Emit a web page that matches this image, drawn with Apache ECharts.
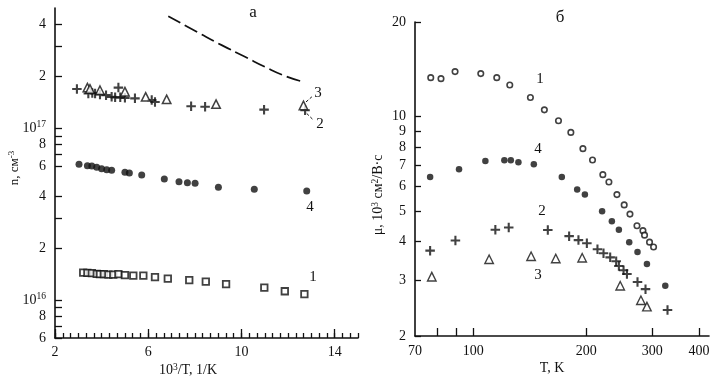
<!DOCTYPE html>
<html><head><meta charset="utf-8">
<script src="https://cdn.jsdelivr.net/npm/echarts@6/dist/echarts.min.js"></script>
<style>html,body{margin:0;padding:0;background:#fff}#c{width:717px;height:380px}</style>
</head><body><div id="c"></div>
<script>
// ---------- Panel "а": n vs 10^3/T ----------
const aN1 = [[3.21,1.441e16],[3.39,1.436e16],[3.58,1.430e16],[3.79,1.417e16],[3.93,1.411e16],[4.10,1.411e16],[4.29,1.404e16],[4.50,1.404e16],[4.72,1.411e16],[5.0,1.392e16],[5.36,1.385e16],[5.79,1.385e16],[6.29,1.355e16],[6.84,1.330e16],[7.76,1.302e16],[8.47,1.278e16],[9.34,1.234e16],[10.98,1.179e16],[11.86,1.123e16],[12.70,1.079e16]];
const aN2 = [[2.94,1.69e17],[3.43,1.59e17],[3.6,1.60e17],[3.72,1.59e17],[3.93,1.57e17],[4.19,1.555e17],[4.43,1.52e17],[4.58,1.51e17],[4.72,1.72e17],[4.8,1.51e17],[5.0,1.50e17],[5.43,1.49e17],[6.15,1.455e17],[6.29,1.42e17],[7.84,1.34e17],[8.44,1.33e17],[10.97,1.28e17],[12.73,1.27e17]];
const aN3 = [[3.39,1.72e17],[3.5,1.69e17],[3.93,1.66e17],[5.0,1.63e17],[5.89,1.52e17],[6.79,1.47e17],[8.91,1.38e17],[12.66,1.355e17]];
const aN4 = [[3.03,6.15e16],[3.39,6.03e16],[3.58,6.01e16],[3.79,5.91e16],[4.0,5.80e16],[4.22,5.72e16],[4.43,5.68e16],[5.0,5.53e16],[5.19,5.47e16],[5.72,5.33e16],[6.69,5.05e16],[7.32,4.87e16],[7.68,4.81e16],[8.01,4.77e16],[9.01,4.52e16],[10.55,4.40e16],[12.80,4.30e16]];
const aCurve = [[6.86,4.48e17],[8.22,3.55e17],[9.15,3.04e17],[10.15,2.60e17],[11.01,2.27e17],[11.87,2.01e17],[12.52,1.88e17]];
const aLeader3 = [[12.77,1.42e17],[13.02,1.52e17]];
const aLeader2 = [[12.80,1.217e17],[13.09,1.113e17]];
const aXLabels = [2,6,10,14];
const aYLabels = [6e15,8e15,1e16,2e16,4e16,6e16,8e16,1e17,2e17,4e17];
const aYTicks = [6e15,7e15,8e15,9e15,1e16,2e16,3e16,4e16,6e16,7e16,8e16,9e16,1e17,2e17,3e17,4e17,5e17];
const aXMinorTicks = [];
for (let i = 0; i <= 39; i++) aXMinorTicks.push(2 + i / 3);

// ---------- Panel "б": mu vs T ----------
const bMu1 = [[77.1,13.3],[82.1,13.2],[89.5,13.9],[104.8,13.7],[115.6,13.3],[125.2,12.6],[142.1,11.5],[154.8,10.5],[168.8,9.7],[182.1,8.9],[196.1,7.9],[208,7.27],[221.6,6.53],[230,6.19],[241.6,5.64],[252.6,5.23],[261.7,4.89],[273.2,4.49],[283.4,4.33],[286.2,4.19],[295.1,3.98],[302.5,3.84]];
const bMu4 = [[76.8,6.42],[91.7,6.79],[107.8,7.22],[121.1,7.26],[126,7.26],[132,7.15],[145.1,7.05],[172.3,6.42],[189.3,5.86],[198.5,5.64],[220.6,4.99],[234.2,4.64],[244.5,4.36],[260.5,3.98],[274.1,3.70],[290.4,3.39],[325,2.89]];
const bMu2 = [[76.8,3.74],[89.7,4.03],[114.6,4.36],[124.4,4.43],[158.1,4.35],[180.2,4.16],[190.8,4.04],[200.9,3.95],[214.4,3.78],[222.5,3.67],[231.8,3.56],[240.5,3.46],[244.5,3.34],[251.6,3.24],[256.9,3.15],[274.1,2.97],[287.9,2.82],[329.5,2.42]];
const bMu3 = [[77.6,3.09],[110.3,3.51],[142.7,3.59],[166,3.53],[195.2,3.55],[246.5,2.89],[279.9,2.60],[290.4,2.48]];
const bXLabels = [70,100,200,300,400];
const bXTicks = [80,90,100,200,300,400];
const bYLabels = [2,3,4,5,6,7,8,9,10,20];

const FONT = 'Liberation Serif';
const INK = '#111';
const plusPath = 'path://M3.9,0H6.1V3.9H10V6.1H6.1V10H3.9V6.1H0V3.9H3.9Z';
const rich = {
  b: {fontFamily: FONT, fontSize: 14, color: INK, lineHeight: 17},
  s: {fontFamily: FONT, fontSize: 9.5, color: INK, lineHeight: 10, verticalAlign: 'top'}
};
function logFmt(v) {
  const e = Math.floor(Math.log10(v) + 1e-9);
  const m = Math.round(v / Math.pow(10, e));
  if (m === 1) return '{b|10}{s|' + e + '}';
  return '{b|' + m + '}';
}
const axLine = {show: true, lineStyle: {color: INK, width: 1.6}};
const labelBase = {fontFamily: FONT, fontSize: 14, color: INK};

const chart = echarts.init(document.getElementById('c'), null, {renderer: 'canvas'});
chart.setOption({
  animation: false,
  backgroundColor: '#fff',
  grid: [
    {left: 55, top: 8, width: 303, height: 330},
    {left: 415, top: 22, width: 294, height: 314}
  ],
  xAxis: [
    {type: 'value', gridIndex: 0, min: 2, max: 15, position: 'bottom',
      axisLine: axLine, splitLine: {show: false},
      axisTick: {show: true, inside: true, length: 5, customValues: aXMinorTicks, lineStyle: {color: INK, width: 1.3}},
      axisLabel: {show: false}},
    {type: 'value', gridIndex: 0, min: 2, max: 15, position: 'bottom',
      axisLine: {show: false}, splitLine: {show: false},
      axisTick: {show: true, inside: true, length: 9, customValues: aXLabels, lineStyle: {color: INK, width: 1.3}},
      axisLabel: Object.assign({show: true, margin: 7, customValues: aXLabels}, labelBase)},
    {type: 'log', logBase: 10, gridIndex: 1, min: 70, max: 425, position: 'bottom',
      axisLine: axLine, splitLine: {show: false}, minorTick: {show: false},
      axisTick: {show: true, inside: true, length: 8, customValues: bXTicks, lineStyle: {color: INK, width: 1.3}},
      axisLabel: Object.assign({show: true, margin: 8, customValues: bXLabels, formatter: v => String(Math.round(v))}, labelBase)}
  ],
  yAxis: [
    {type: 'log', logBase: 10, gridIndex: 0, min: 6e15, max: 5e17,
      axisLine: axLine, splitLine: {show: false}, minorTick: {show: false},
      axisTick: {show: true, inside: true, length: 7, customValues: aYTicks, lineStyle: {color: INK, width: 1.3}},
      axisLabel: {show: true, margin: 9, customValues: aYLabels, formatter: logFmt, rich: rich}},
    {type: 'log', logBase: 10, gridIndex: 1, min: 2, max: 20,
      axisLine: axLine, splitLine: {show: false}, minorTick: {show: false},
      axisTick: {show: true, inside: true, length: 6, customValues: bYLabels, lineStyle: {color: INK, width: 1.3}},
      axisLabel: Object.assign({show: true, margin: 9, customValues: bYLabels, formatter: v => String(Math.round(v))}, labelBase)}
  ],
  series: [
    {name: 'a1', type: 'scatter', xAxisIndex: 0, yAxisIndex: 0, data: aN1, symbol: 'rect', symbolSize: 6.5,
      itemStyle: {color: '#fff', borderColor: INK, borderWidth: 1.8}},
    {name: 'a2', type: 'scatter', xAxisIndex: 0, yAxisIndex: 0, data: aN2, symbol: plusPath, symbolSize: 9.5,
      itemStyle: {color: INK}},
    {name: 'a3', type: 'scatter', xAxisIndex: 0, yAxisIndex: 0, data: aN3, symbol: 'triangle', symbolSize: 8.5,
      itemStyle: {color: '#fff', borderColor: INK, borderWidth: 1.5}},
    {name: 'a4', type: 'scatter', xAxisIndex: 0, yAxisIndex: 0, data: aN4, symbol: 'circle', symbolSize: 7,
      itemStyle: {color: INK}},
    {name: 'aCurve', type: 'line', xAxisIndex: 0, yAxisIndex: 0, data: aCurve, smooth: true, symbol: 'none',
      lineStyle: {color: INK, width: 1.7, type: [14, 5]}},
    {name: 'aL3', type: 'line', xAxisIndex: 0, yAxisIndex: 0, data: aLeader3, symbol: 'none',
      lineStyle: {color: INK, width: 1, type: [3, 2]}},
    {name: 'aL2', type: 'line', xAxisIndex: 0, yAxisIndex: 0, data: aLeader2, symbol: 'none',
      lineStyle: {color: INK, width: 1, type: [3, 2]}},
    {name: 'b1', type: 'scatter', xAxisIndex: 2, yAxisIndex: 1, data: bMu1, symbol: 'circle', symbolSize: 5.5,
      itemStyle: {color: '#fff', borderColor: INK, borderWidth: 1.6}},
    {name: 'b4', type: 'scatter', xAxisIndex: 2, yAxisIndex: 1, data: bMu4, symbol: 'circle', symbolSize: 6.5,
      itemStyle: {color: INK}},
    {name: 'b2', type: 'scatter', xAxisIndex: 2, yAxisIndex: 1, data: bMu2, symbol: plusPath, symbolSize: 9.5,
      itemStyle: {color: INK}},
    {name: 'b3', type: 'scatter', xAxisIndex: 2, yAxisIndex: 1, data: bMu3, symbol: 'triangle', symbolSize: 8.5,
      itemStyle: {color: '#fff', borderColor: INK, borderWidth: 1.4}}
  ],
  graphic: [
    {type: 'text', x: 253, y: 13, style: {text: 'а', font: '17px "Liberation Serif"', fill: INK, align: 'center', verticalAlign: 'middle'}},
    {type: 'text', x: 560, y: 18, style: {text: 'б', font: '17px "Liberation Serif"', fill: INK, align: 'center', verticalAlign: 'middle'}},
    {type: 'text', x: 318, y: 93, style: {text: '3', font: '15px "Liberation Serif"', fill: INK, align: 'center', verticalAlign: 'middle'}},
    {type: 'text', x: 320, y: 124, style: {text: '2', font: '15px "Liberation Serif"', fill: INK, align: 'center', verticalAlign: 'middle'}},
    {type: 'text', x: 310, y: 207, style: {text: '4', font: '15px "Liberation Serif"', fill: INK, align: 'center', verticalAlign: 'middle'}},
    {type: 'text', x: 313, y: 277, style: {text: '1', font: '15px "Liberation Serif"', fill: INK, align: 'center', verticalAlign: 'middle'}},
    {type: 'text', x: 540, y: 79, style: {text: '1', font: '15px "Liberation Serif"', fill: INK, align: 'center', verticalAlign: 'middle'}},
    {type: 'text', x: 538, y: 149, style: {text: '4', font: '15px "Liberation Serif"', fill: INK, align: 'center', verticalAlign: 'middle'}},
    {type: 'text', x: 542, y: 211, style: {text: '2', font: '15px "Liberation Serif"', fill: INK, align: 'center', verticalAlign: 'middle'}},
    {type: 'text', x: 538, y: 275, style: {text: '3', font: '15px "Liberation Serif"', fill: INK, align: 'center', verticalAlign: 'middle'}},
    {type: 'text', x: 15, y: 168, rotation: Math.PI / 2,
      style: {text: '{b|n, см}{s|-3}', align: 'center', verticalAlign: 'middle',
        rich: {b: {fontFamily: FONT, fontSize: 13, fill: INK, lineHeight: 15}, s: {fontFamily: FONT, fontSize: 9, fill: INK, lineHeight: 9, verticalAlign: 'top'}}}},
    {type: 'text', x: 188, y: 370,
      style: {text: '{b|10}{s|3}{b|/T, 1/K}', align: 'center', verticalAlign: 'middle',
        rich: {b: {fontFamily: FONT, fontSize: 14, fill: INK, lineHeight: 16}, s: {fontFamily: FONT, fontSize: 9.5, fill: INK, lineHeight: 10, verticalAlign: 'top'}}}},
    {type: 'text', x: 378, y: 195, rotation: Math.PI / 2,
      style: {text: '{b|μ, 10}{s|3}{b| см}{s|2}{b|/В·с}', align: 'center', verticalAlign: 'middle',
        rich: {b: {fontFamily: FONT, fontSize: 14, fill: INK, lineHeight: 16}, s: {fontFamily: FONT, fontSize: 9.5, fill: INK, lineHeight: 10, verticalAlign: 'top'}}}},
    {type: 'text', x: 552, y: 368, style: {text: 'T, K', font: '14px "Liberation Serif"', fill: INK, align: 'center', verticalAlign: 'middle'}}
  ]
});
</script>
</body></html>
